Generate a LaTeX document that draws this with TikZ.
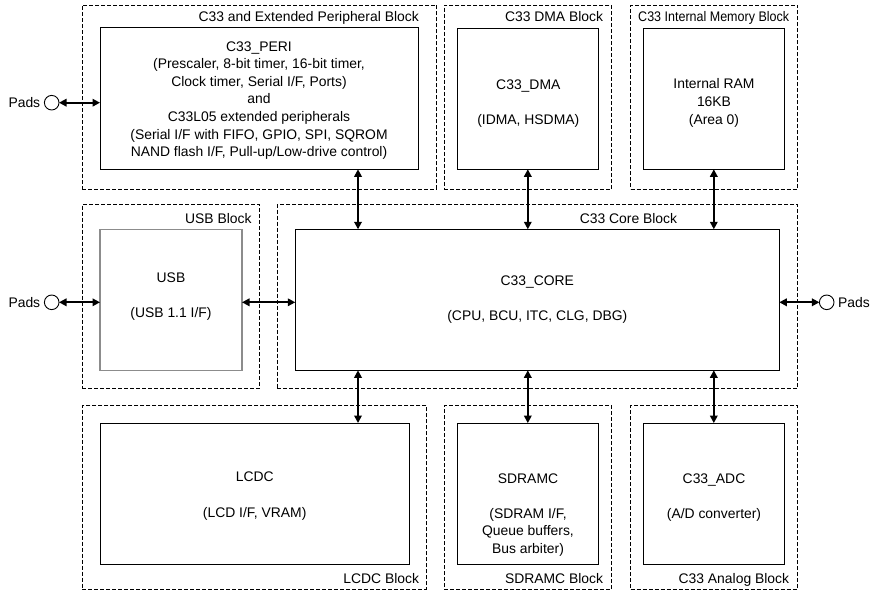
\documentclass[tikz,border=0pt]{standalone}
\usepackage{fontspec}
\setmainfont{Liberation Sans}
\usetikzlibrary{arrows.meta}
\begin{document}
\begin{tikzpicture}[x=1pt,y=-1pt,
  blk/.style={draw, line width=0.9pt, dash pattern=on 4pt off 2pt, inner sep=0pt, outer sep=0pt},
  boxk/.style={draw, line width=1pt, inner sep=0pt, outer sep=0pt},
  boxg/.style={draw=black!45, line width=1.1pt, inner sep=0pt, outer sep=0pt},
  txt/.style={font=\fontsize{13.9}{17.6}\selectfont, align=center, inner sep=0pt},
  ttl/.style={font=\fontsize{13.9}{17.6}\selectfont, inner sep=0pt, anchor=base east},
  pad/.style={draw, circle, line width=0.9pt, minimum size=14.6pt, inner sep=0pt, outer sep=0pt},
  arr/.style={line width=1.8pt, {Triangle[length=7.5pt,width=7.5pt]}-{Triangle[length=7.5pt,width=7.5pt]}}]
\useasboundingbox (0,0) rectangle (890,594);
\fill[white] (0,0) rectangle (890,594);
% outer dashed blocks
\node[blk, minimum width=354.4pt, minimum height=184pt] (periB) at (259.5,97) {};
\node[blk, minimum width=167.7pt, minimum height=184pt] (dmaB) at (527.85,97) {};
\node[blk, minimum width=167pt, minimum height=184pt] (memB) at (714.2,97) {};
\node[blk, minimum width=177.4pt, minimum height=184pt] (usbB) at (171,296.3) {};
\node[blk, minimum width=520.4pt, minimum height=184pt] (coreB) at (537.5,296.3) {};
\node[blk, minimum width=344.4pt, minimum height=183.3pt] (lcdcB) at (254.5,497.35) {};
\node[blk, minimum width=167.7pt, minimum height=183.3pt] (sdrB) at (527.85,497.35) {};
\node[blk, minimum width=167pt, minimum height=183.3pt] (adcB) at (714.2,497.35) {};
% block titles
\node[ttl] (periT) at (419,21.7) {C33 and Extended Peripheral Block};
\node[ttl] (dmaT) at (603.3,21.7) {C33 DMA Block};
\node[ttl] (memT) at (789.3,21.7) {\scalebox{0.9}[1]{C33 Internal Memory Block}};
\node[ttl] (usbT) at (251.7,223) {USB Block};
\node[ttl] (coreT) at (677.3,223) {C33 Core Block};
\node[ttl] (lcdcT) at (419.3,583) {LCDC Block};
\node[ttl] (sdrT) at (603.3,583) {SDRAMC Block};
\node[ttl] (adcT) at (789.3,583) {C33 Analog Block};
% inner boxes
\node[boxk, minimum width=318.3pt, minimum height=141.6pt] (peri) at (259.15,98.5) {};
\node[boxk, minimum width=141pt, minimum height=141pt] (dma) at (527.8,98.8) {};
\node[boxk, minimum width=141pt, minimum height=141pt] (mem) at (713.8,98.8) {};
\node[boxg, minimum width=142pt, minimum height=141pt] (usb) at (171,299.8) {};
\node[boxk, minimum width=484pt, minimum height=141pt] (core) at (537.3,299.8) {};
\node[boxk, minimum width=309.3pt, minimum height=141pt] (lcdc) at (254.65,493.5) {};
\node[boxk, minimum width=141pt, minimum height=141pt] (sdr) at (527.8,493.6) {};
\node[boxk, minimum width=141pt, minimum height=141pt] (adc) at (713.8,493.6) {};
% box texts
\node[txt] (periX) at (259,100.5) {C33\_PERI\\(Prescaler, 8-bit timer, 16-bit timer,\\Clock timer, Serial I/F, Ports)\\and\\C33L05 extended peripherals\\(Serial I/F with FIFO, GPIO, SPI, SQROM\\NAND flash I/F, Pull-up/Low-drive control)};
\node[txt] (dmaX) at (528.3,103.2) {C33\_DMA\\[17.6pt](IDMA, HSDMA)};
\node[txt] (memX) at (714,102.9) {Internal RAM\\16KB\\(Area 0)};
\node[txt] (usbX) at (171,296.7) {USB\\[17.6pt](USB 1.1 I/F)};
\node[txt] (coreX) at (537.3,299.2) {C33\_CORE\\[17.6pt](CPU, BCU, ITC, CLG, DBG)};
\node[txt] (lcdcX) at (254.7,496) {LCDC\\[17.6pt](LCD I/F, VRAM)};
\node[txt] (sdrX) at (528,514.9) {SDRAMC\\[17.6pt](SDRAM I/F,\\Queue buffers,\\Bus arbiter)};
\node[txt] (adcX) at (714,497.2) {C33\_ADC\\[17.6pt](A/D converter)};
% pads
\node[pad] (padA) at (51.7,102.7) {};
\node[pad] (padB) at (51.7,302.3) {};
\node[pad] (padC) at (826.7,302.3) {};
\node[txt, anchor=east] (padAT) at ([xshift=-4pt]padA.west) {Pads};
\node[txt, anchor=east] (padBT) at ([xshift=-4pt]padB.west) {Pads};
\node[txt, anchor=west] (padCT) at ([xshift=4pt]padC.east) {Pads};
% connectors
\coordinate (xa) at (358,0);
\draw[arr] (padA.east) -- (peri.west |- padA);
\draw[arr] (padB.east) -- (usb.west |- padB);
\draw[arr] (usb.east |- padB) -- (core.west |- padB);
\draw[arr] (core.east |- padC) -- (padC.west);
\draw[arr] (peri.south -| xa) -- (core.north -| xa);
\draw[arr] (dma.south) -- (dma.south |- core.north);
\draw[arr] (mem.south) -- (mem.south |- core.north);
\draw[arr] (core.south -| xa) -- (lcdc.north -| xa);
\draw[arr] (core.south -| sdr.north) -- (sdr.north);
\draw[arr] (core.south -| adc.north) -- (adc.north);
\end{tikzpicture}
\end{document}
